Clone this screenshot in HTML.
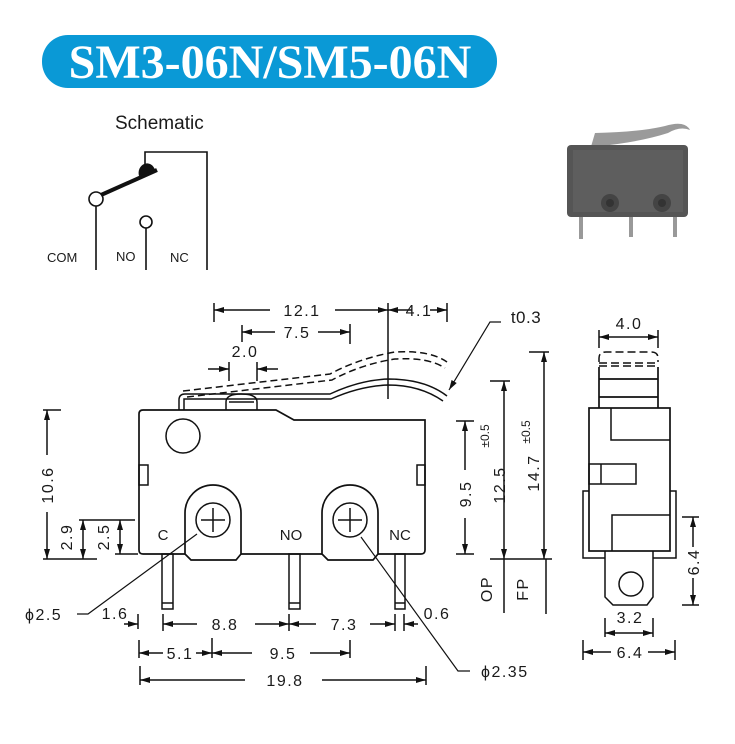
<!DOCTYPE html>
<html><head><meta charset="utf-8"><style>
html,body{margin:0;padding:0;background:#fff;width:735px;height:744px;overflow:hidden}
svg{display:block}
text{font-family:"Liberation Sans",sans-serif;fill:#1a1a1a}
</style></head><body>
<svg width="735" height="744" viewBox="0 0 735 744" xmlns="http://www.w3.org/2000/svg">
<defs>
<marker id="a" viewBox="0 0 10 6" refX="10" refY="3" markerWidth="10" markerHeight="6" orient="auto-start-reverse" markerUnits="userSpaceOnUse"><path d="M0,0 L10,3 L0,6 z" fill="#111"/></marker>
</defs>
<!-- title -->
<rect x="42" y="35" width="455" height="53" rx="26" fill="#0a99d6"/>
<text x="270" y="78" text-anchor="middle" style="font-family:'Liberation Serif',serif;font-weight:bold;font-size:48px;fill:#fff">SM3-06N/SM5-06N</text>
<!-- schematic -->
<text x="115" y="129" style="font-size:19px">Schematic</text>
<g stroke="#111" stroke-width="1.6" fill="none">
<path d="M145,170 V152 H207 V270"/>
<line x1="96" y1="206" x2="96" y2="270"/>
<line x1="146" y1="228" x2="146" y2="270"/>
<circle cx="96" cy="199" r="7" fill="#fff"/>
<circle cx="146" cy="222" r="6" fill="#fff"/>
</g>
<line x1="101" y1="195" x2="157" y2="170" stroke="#111" stroke-width="4"/>
<path d="M139,176 a7,8 0 1 1 16,-6 z" fill="#111"/>
<text x="47" y="262" style="font-size:13px">COM</text>
<text x="116" y="261" style="font-size:13px">NO</text>
<text x="170" y="262" style="font-size:13px">NC</text>
<!-- photo -->
<path d="M590,150 L595,133 Q640,132 665,126 Q685,120 690,130 Q680,126 668,133 Q640,142 600,146 L598,152 z" fill="#9a9a9a"/>
<rect x="567" y="145" width="121" height="72" rx="4" fill="#555"/>
<rect x="573" y="150" width="110" height="62" fill="#5e5e5e"/>
<circle cx="610" cy="203" r="9" fill="#444"/><circle cx="662" cy="203" r="9" fill="#444"/>
<circle cx="610" cy="203" r="4" fill="#333"/><circle cx="662" cy="203" r="4" fill="#333"/>
<rect x="579" y="217" width="4" height="22" fill="#999"/>
<rect x="629" y="217" width="4" height="20" fill="#999"/>
<rect x="673" y="217" width="4" height="20" fill="#999"/>

<g stroke="#111" stroke-width="1.5" fill="none">
<!-- body -->
<path d="M143,410 H276 L294,420 H425 V550 Q425,554 421,554 H143 Q139,554 139,550 V414 Q139,410 143,410 z" stroke-width="1.7"/>
<circle cx="183" cy="436" r="17"/>
<rect x="139" y="465" width="9" height="20"/>
<rect x="417" y="465" width="8" height="20"/>
<!-- lever -->
<path d="M179,410 V400 Q179,394 185,394 H330 Q360,380 388,379 Q425,379 447,396" stroke-width="1.5"/>
<path d="M184,410 V399 H331 Q360,386 388,385 Q420,385 443,401" stroke-width="1.5"/>
<path d="M226,410 V402 Q226,394 241,394 Q257,394 257,402 V410" stroke-width="1.5"/>
<line x1="229" y1="402" x2="254" y2="402"/>
<path d="M183,391 L330,374 Q360,358 395,352 Q430,350 447,362" stroke-dasharray="7,4"/>
<path d="M187,397 L332,380 Q362,364 395,359 Q428,357 445,368" stroke-dasharray="7,4"/>
<!-- pads -->
<path d="M185,554 V513 A28,28 0 0 1 241,513 V554 L236,560 H191 L185,554" fill="#fff" stroke-width="1.7"/>
<path d="M322,554 V513 A28,28 0 0 1 378,513 V554 L373,560 H328 L322,554" fill="#fff" stroke-width="1.7"/>
<circle cx="213" cy="520" r="17"/><circle cx="350" cy="520" r="17"/>
<path d="M213,508 V532 M201,520 H225 M350,508 V532 M338,520 H362"/>
<!-- pins -->
<rect x="162" y="554" width="11" height="55"/><line x1="162" y1="603" x2="173" y2="603"/>
<rect x="289" y="554" width="11" height="55"/><line x1="289" y1="603" x2="300" y2="603"/>
<rect x="395" y="554" width="10" height="55"/><line x1="395" y1="603" x2="405" y2="603"/>
<!-- leaders -->
<path d="M197,534 L88,614 H77" stroke-width="1.2"/>
<path d="M361,537 L458,671 H470" stroke-width="1.2"/>
<path d="M501,322 H490 L449,390" stroke-width="1.2" marker-end="url(#a)"/>
<!-- top dims -->
<line x1="214" y1="303" x2="214" y2="322"/>
<line x1="388" y1="303" x2="388" y2="399"/>
<line x1="447" y1="303" x2="447" y2="322"/>
<line x1="270" y1="310" x2="214" y2="310" marker-end="url(#a)"/>
<line x1="335" y1="310" x2="388" y2="310" marker-end="url(#a)"/>
<line x1="412" y1="310" x2="388" y2="310" marker-end="url(#a)"/>
<line x1="430" y1="310" x2="447" y2="310" marker-end="url(#a)"/>
<line x1="242" y1="325" x2="242" y2="342"/><line x1="350" y1="324" x2="350" y2="344"/>
<line x1="275" y1="332" x2="242" y2="332" marker-end="url(#a)"/>
<line x1="318" y1="332" x2="350" y2="332" marker-end="url(#a)"/>
<line x1="229" y1="362" x2="229" y2="381"/><line x1="257" y1="362" x2="257" y2="381"/>
<line x1="208" y1="369" x2="229" y2="369" marker-end="url(#a)"/>
<line x1="278" y1="369" x2="257" y2="369" marker-end="url(#a)"/>
<!-- left dims -->
<line x1="43" y1="410" x2="61" y2="410"/><line x1="43" y1="559" x2="97" y2="559"/>
<line x1="47" y1="455" x2="47" y2="410" marker-end="url(#a)"/>
<line x1="47" y1="512" x2="47" y2="559" marker-end="url(#a)"/>
<line x1="79" y1="520" x2="135" y2="520"/><line x1="115" y1="554" x2="138" y2="554"/>
<line x1="83" y1="520" x2="83" y2="559" marker-start="url(#a)" marker-end="url(#a)"/>
<line x1="120" y1="520" x2="120" y2="554" marker-start="url(#a)" marker-end="url(#a)"/>
<!-- right dims -->
<line x1="456" y1="421" x2="474" y2="421"/><line x1="456" y1="554" x2="474" y2="554"/>
<line x1="465" y1="470" x2="465" y2="421" marker-end="url(#a)"/>
<line x1="465" y1="518" x2="465" y2="554" marker-end="url(#a)"/>
<line x1="490" y1="381" x2="510" y2="381"/><line x1="490" y1="559" x2="552" y2="559"/>
<line x1="504" y1="381" x2="504" y2="559" marker-start="url(#a)" marker-end="url(#a)"/>
<line x1="529" y1="352" x2="549" y2="352"/>
<line x1="544" y1="352" x2="544" y2="559" marker-start="url(#a)" marker-end="url(#a)"/>
<line x1="504" y1="559" x2="504" y2="613"/><line x1="546" y1="559" x2="546" y2="614"/>
<!-- bottom dims -->
<line x1="138" y1="614" x2="138" y2="629"/>
<line x1="124" y1="624" x2="138" y2="624" marker-end="url(#a)"/>
<line x1="163" y1="614" x2="163" y2="631"/><line x1="289" y1="614" x2="289" y2="631"/>
<line x1="197" y1="624" x2="163" y2="624" marker-end="url(#a)"/>
<line x1="255" y1="624" x2="289" y2="624" marker-end="url(#a)"/>
<line x1="316" y1="624" x2="289" y2="624" marker-end="url(#a)"/>
<line x1="370" y1="624" x2="395" y2="624" marker-end="url(#a)"/>
<line x1="395" y1="614" x2="395" y2="631"/><line x1="404" y1="614" x2="404" y2="631"/>
<line x1="418" y1="624" x2="404" y2="624" marker-end="url(#a)"/>
<line x1="139" y1="640" x2="139" y2="658"/><line x1="212" y1="638" x2="212" y2="658"/><line x1="350" y1="640" x2="350" y2="658"/>
<line x1="163" y1="653" x2="139" y2="653" marker-end="url(#a)"/>
<line x1="196" y1="653" x2="212" y2="653" marker-end="url(#a)"/>
<line x1="252" y1="653" x2="212" y2="653" marker-end="url(#a)"/>
<line x1="310" y1="653" x2="350" y2="653" marker-end="url(#a)"/>
<line x1="140" y1="666" x2="140" y2="685"/><line x1="426" y1="666" x2="426" y2="685"/>
<line x1="245" y1="680" x2="140" y2="680" marker-end="url(#a)"/>
<line x1="322" y1="680" x2="426" y2="680" marker-end="url(#a)"/>
<!-- side view -->
<line x1="599" y1="330" x2="599" y2="348"/><line x1="658" y1="330" x2="658" y2="348"/>
<line x1="599" y1="337" x2="658" y2="337" marker-start="url(#a)" marker-end="url(#a)"/>
<path d="M599,362 V358 Q599,352 606,352 H651 Q658,352 658,358 V362" stroke-dasharray="8,4"/>
<line x1="599" y1="363" x2="658" y2="363" stroke-dasharray="8,4"/>
<line x1="599" y1="366" x2="658" y2="366" stroke-dasharray="8,4"/>
<path d="M599,367 V408 M658,367 V408 M599,379 H658 M599,397 H658" stroke-width="1.7"/>
<rect x="589" y="408" width="81" height="143" stroke-width="1.7"/>
<path d="M611,408 V440 H670"/>
<rect x="589" y="464" width="47" height="20"/><line x1="601" y1="464" x2="601" y2="484"/>
<path d="M670,515 H612 V551"/>
<path d="M589,491 H583 V558 H605 M653,558 H676 V491 H670"/>
<path d="M605,551 V597 L613,605 H647 L653,597 V551" stroke-width="1.5"/>
<circle cx="631" cy="584" r="12"/>
<line x1="682" y1="517" x2="699" y2="517"/><line x1="682" y1="605" x2="699" y2="605"/>
<line x1="693" y1="547" x2="693" y2="517" marker-end="url(#a)"/>
<line x1="693" y1="578" x2="693" y2="605" marker-end="url(#a)"/>
<line x1="605" y1="618" x2="605" y2="637"/><line x1="653" y1="618" x2="653" y2="637"/>
<line x1="605" y1="633" x2="653" y2="633" marker-start="url(#a)" marker-end="url(#a)"/>
<line x1="583" y1="640" x2="583" y2="660"/><line x1="675" y1="640" x2="675" y2="660"/>
<line x1="611" y1="652" x2="583" y2="652" marker-end="url(#a)"/>
<line x1="648" y1="652" x2="675" y2="652" marker-end="url(#a)"/>
</g>
<!-- texts -->
<g style="font-size:16px;letter-spacing:1.5px">
<text x="163" y="540" text-anchor="middle" style="font-size:15px;letter-spacing:0">C</text>
<text x="291" y="540" text-anchor="middle" style="font-size:15px;letter-spacing:0">NO</text>
<text x="400" y="540" text-anchor="middle" style="font-size:15px;letter-spacing:0">NC</text>
<text x="302" y="316" text-anchor="middle">12.1</text>
<text x="419" y="316" text-anchor="middle">4.1</text>
<text x="297" y="338" text-anchor="middle">7.5</text>
<text x="245" y="357" text-anchor="middle">2.0</text>
<text x="526" y="323" text-anchor="middle" style="font-size:17px;letter-spacing:0.5px">t0.3</text>
<text transform="translate(53,485) rotate(-90)" text-anchor="middle">10.6</text>
<text transform="translate(72,537) rotate(-90)" text-anchor="middle">2.9</text>
<text transform="translate(109,537) rotate(-90)" text-anchor="middle">2.5</text>
<text transform="translate(471,494) rotate(-90)" text-anchor="middle">9.5</text>
<text transform="translate(489,436) rotate(-90)" text-anchor="middle" style="font-size:12px;letter-spacing:0">±0.5</text>
<text transform="translate(505,485) rotate(-90)" text-anchor="middle">12.5</text>
<text transform="translate(539,473) rotate(-90)" text-anchor="middle">14.7</text>
<text transform="translate(530,432) rotate(-90)" text-anchor="middle" style="font-size:12px;letter-spacing:0">±0.5</text>
<text transform="translate(492,589) rotate(-90)" text-anchor="middle">OP</text>
<text transform="translate(528,589) rotate(-90)" text-anchor="middle">FP</text>
<text x="25" y="620">ϕ2.5</text>
<text x="115" y="619" text-anchor="middle">1.6</text>
<text x="225" y="630" text-anchor="middle">8.8</text>
<text x="344" y="630" text-anchor="middle">7.3</text>
<text x="437" y="619" text-anchor="middle">0.6</text>
<text x="180" y="659" text-anchor="middle">5.1</text>
<text x="283" y="659" text-anchor="middle">9.5</text>
<text x="285" y="686" text-anchor="middle">19.8</text>
<text x="481" y="677">ϕ2.35</text>
<text x="629" y="329" text-anchor="middle">4.0</text>
<text transform="translate(699,562) rotate(-90)" text-anchor="middle">6.4</text>
<text x="630" y="623" text-anchor="middle">3.2</text>
<text x="630" y="658" text-anchor="middle">6.4</text>
</g>
</svg>
</body></html>
